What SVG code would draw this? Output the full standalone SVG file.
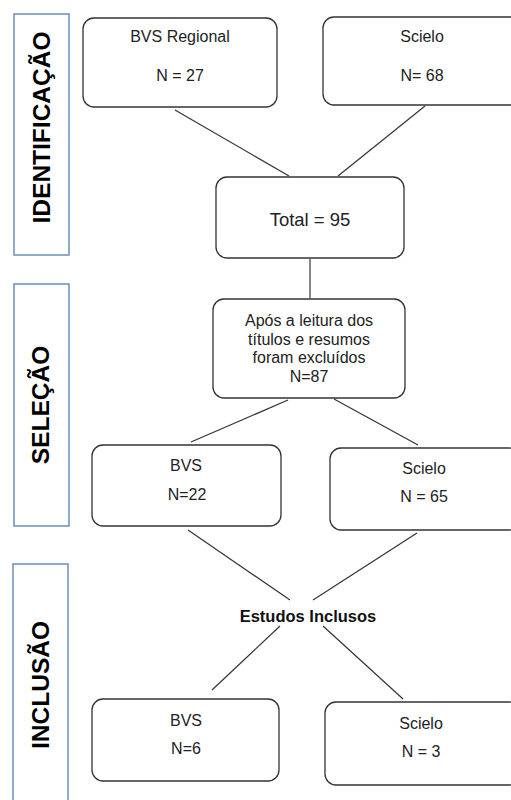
<svg xmlns="http://www.w3.org/2000/svg" width="511" height="800" viewBox="0 0 511 800">
<style>
.side{fill:none;stroke:#6d8cbd;stroke-width:1.5}
.node{fill:#fff;stroke:#333;stroke-width:1.3}
.lab{font-family:"Liberation Sans",Arial,sans-serif;font-weight:bold;font-size:24.5px;fill:#000;text-anchor:middle}
.t{font-family:"Liberation Sans",Arial,sans-serif;font-size:16px;fill:#222;text-anchor:middle}
.tb{font-family:"Liberation Sans",Arial,sans-serif;font-size:16px;font-weight:bold;fill:#111;text-anchor:middle}
.c{stroke:#333;stroke-width:1.2;fill:none}
</style>
<rect width="511" height="800" fill="#fff"/>
<g id="stage-identificacao">
<rect class="side" x="14" y="14" width="55" height="241"/>
<text class="lab" transform="translate(50,127.5) rotate(-90)">IDENTIFICAÇÃO</text>
</g>
<g id="stage-selecao">
<rect class="side" x="14" y="284" width="55" height="242"/>
<text class="lab" transform="translate(49,405) rotate(-90)">SELEÇÃO</text>
</g>
<g id="stage-inclusao">
<rect class="side" x="13" y="564" width="55" height="240"/>
<text class="lab" transform="translate(49,685) rotate(-90)">INCLUSÃO</text>
</g>
<g id="connectors">
<line class="c" x1="175" y1="110" x2="289" y2="176"/>
<line class="c" x1="425" y1="106" x2="338" y2="176"/>
<line class="c" x1="310" y1="259" x2="310" y2="298"/>
<line class="c" x1="288" y1="400" x2="191" y2="442"/>
<line class="c" x1="334" y1="399" x2="418" y2="445"/>
<line class="c" x1="188" y1="530" x2="290" y2="600"/>
<line class="c" x1="417" y1="533" x2="313" y2="600"/>
<line class="c" x1="280" y1="626" x2="212" y2="690"/>
<line class="c" x1="323" y1="626" x2="403" y2="699"/>
</g>
<g id="bvs-regional">
<rect class="node" x="83" y="18" width="194" height="89" rx="11"/>
<text class="t" x="180" y="42">BVS Regional</text>
<text class="t" x="180" y="81">N = 27</text>
</g>
<g id="scielo-id">
<rect class="node" x="323" y="17" width="200" height="88" rx="11"/>
<text class="t" x="422" y="42">Scielo</text>
<text class="t" x="422" y="81">N= 68</text>
</g>
<g id="total">
<rect class="node" x="216" y="177" width="188" height="81" rx="11"/>
<text class="t" x="310" y="226" style="font-size:18.5px">Total = 95</text>
</g>
<g id="apos">
<rect class="node" x="213" y="299" width="192" height="99" rx="11"/>
<text class="t" x="309" y="326">Após a leitura dos</text>
<text class="t" x="309" y="344.5">títulos e resumos</text>
<text class="t" x="309" y="363">foram excluídos</text>
<text class="t" x="309" y="382">N=87</text>
</g>
<g id="bvs-sel">
<rect class="node" x="92" y="445" width="189" height="81" rx="11"/>
<text class="t" x="186" y="471">BVS</text>
<text class="t" x="187" y="500">N=22</text>
</g>
<g id="scielo-sel">
<rect class="node" x="330" y="448" width="190" height="82" rx="11"/>
<text class="t" x="424" y="474">Scielo</text>
<text class="t" x="424" y="502">N = 65</text>
</g>
<g id="estudos-inclusos">
<text class="tb" x="308" y="622" style="font-size:16.5px">Estudos Inclusos</text>
</g>
<g id="bvs-inc">
<rect class="node" x="92" y="699" width="187" height="82" rx="11"/>
<text class="t" x="186" y="726">BVS</text>
<text class="t" x="186" y="754">N=6</text>
</g>
<g id="scielo-inc">
<rect class="node" x="325" y="702" width="195" height="83" rx="11"/>
<text class="t" x="421" y="729">Scielo</text>
<text class="t" x="421" y="757">N = 3</text>
</g>
</svg>
